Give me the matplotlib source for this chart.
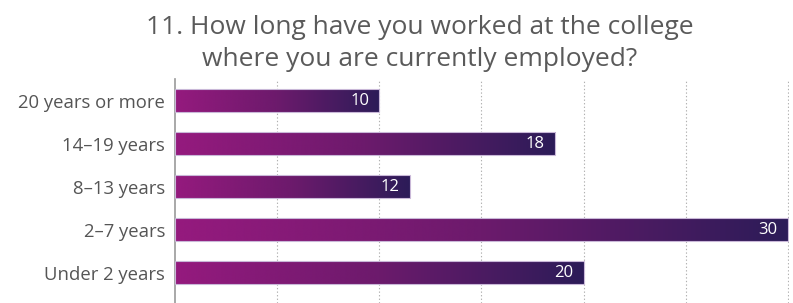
import matplotlib.pyplot as plt
import numpy as np
from matplotlib.colors import LinearSegmentedColormap

categories = ["Under 2 years", "2–7 years", "8–13 years", "14–19 years", "20 years or more"]
bar_lengths = [20, 30, 11.5, 18.6, 10]   # lengths as drawn in the original
value_labels = ["20", "30", "12", "18", "10"]
title_lines = ["11. How long have you worked at the college", "where you are currently employed?"]

plt.rcParams['font.family'] = ['Open Sans', 'DejaVu Sans']

cmap = LinearSegmentedColormap.from_list("bar_grad", ["#951a7e", "#6c1a6c", "#2c1c58"])
gradient = np.linspace(0, 1, 256).reshape(1, -1)

fig = plt.figure(figsize=(7.93, 3.03), dpi=100)
ax = fig.add_axes([175 / 793, 0, (789 - 175) / 793, 224 / 303])

bar_h = 0.53
ypos = np.arange(len(categories))
for y, v, lab in zip(ypos, bar_lengths, value_labels):
    ax.imshow(gradient, cmap=cmap, aspect='auto', extent=(0, v, y - bar_h / 2, y + bar_h / 2),
              zorder=2, interpolation='bicubic')
    ax.barh(y, v, height=bar_h, facecolor='none', edgecolor='#c9b8d8', linewidth=0.8, zorder=3)
    ax.text(v - 0.5, y, lab, color='white', ha='right', va='center', fontsize=12, zorder=4)

ax.set_xlim(0, 30.05)
ax.set_ylim(-0.7, 4.5)
ax.set_xticks(range(5, 31, 5))
ax.xaxis.grid(True, linestyle=(0, (1.2, 2)), color='#b0b0b0', linewidth=0.8, zorder=0)
ax.set_axisbelow(True)
ax.tick_params(axis='x', length=0, labelbottom=False)
ax.set_yticks(ypos)
ax.set_yticklabels(categories, fontsize=13.3, color='#555555')
ax.tick_params(axis='y', length=0, pad=7)
for s in ['top', 'right', 'bottom']:
    ax.spines[s].set_visible(False)
ax.spines['left'].set_color('#999999')
ax.spines['left'].set_linewidth(1.2)

for i, line in enumerate(title_lines):
    fig.text(420 / 793, 1 - (34 + 32 * i) / 303, line, ha='center', va='baseline',
             fontsize=19, color='#5a5a5a')

fig.savefig("out.png", dpi=100)
